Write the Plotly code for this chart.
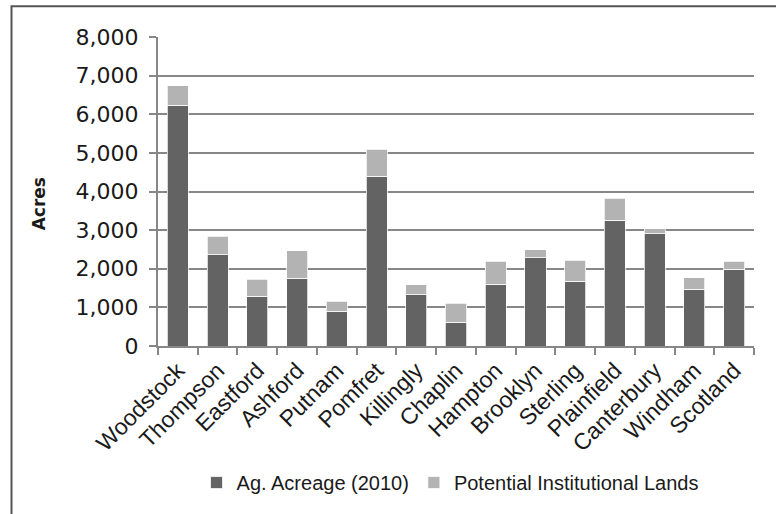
import plotly.graph_objects as go

# Towns along the category axis
towns = ["Woodstock", "Thompson", "Eastford", "Ashford", "Putnam", "Pomfret",
         "Killingly", "Chaplin", "Hampton", "Brooklyn", "Sterling", "Plainfield",
         "Canterbury", "Windham", "Scotland"]

# Acres per town
ag_acreage_2010 = [6230, 2360, 1290, 1750, 900, 4400, 1330, 620, 1600, 2290,
                   1680, 3250, 2910, 1470, 1990]
potential_institutional = [510, 480, 440, 720, 260, 690, 260, 490, 600, 200,
                           540, 570, 120, 300, 200]

y_ticks = [0, 1000, 2000, 3000, 4000, 5000, 6000, 7000, 8000]

DARK = "#636363"
LIGHT = "#b3b3b3"
GRID = "#878787"

fig = go.Figure()
fig.add_trace(go.Bar(
    x=towns, y=ag_acreage_2010, name="Ag. Acreage (2010)",
    marker=dict(color=DARK, line=dict(color="white", width=0.75)),
))
fig.add_trace(go.Bar(
    x=towns, y=potential_institutional, name="Potential Institutional Lands",
    marker=dict(color=LIGHT, line=dict(color="white", width=0.75)),
))

fig.update_layout(
    barmode="stack",
    bargap=0.47,
    width=776, height=514,
    margin=dict(l=158, r=22, t=37, b=166),
    paper_bgcolor="white",
    plot_bgcolor="white",
    font=dict(family="Liberation Sans, Arial, sans-serif", color="#1a1a1a"),
    showlegend=True,
    legend=dict(
        orientation="h", x=0.49, xanchor="center", y=-0.442, yanchor="middle",
        font=dict(size=20, family="Liberation Sans, Arial, sans-serif", color="#1a1a1a"),
        traceorder="normal", itemwidth=30,
    ),
    xaxis=dict(
        type="category",
        tickangle=-45,
        tickfont=dict(size=23, family="Liberation Sans, Arial, sans-serif", color="#1a1a1a"),
        showline=True, linecolor=GRID, linewidth=2,
        ticks="outside", tickson="boundaries", ticklen=7, tickcolor=GRID, tickwidth=2,
        showgrid=False,
    ),
    yaxis=dict(
        range=[0, 8000],
        tickvals=y_ticks,
        tickformat=",d",
        tickfont=dict(size=22, family="DejaVu Sans, sans-serif", color="#1a1a1a"),
        showline=True, linecolor=GRID, linewidth=2,
        ticks="outside", ticklen=7, tickcolor=GRID, tickwidth=2,
        ticklabelstandoff=6,
        showgrid=True, gridcolor=GRID, gridwidth=2,
        zeroline=False,
    ),
    annotations=[dict(
        text="<b>Acres</b>", textangle=-90,
        xref="paper", yref="paper", x=-0.2, y=0.461,
        xanchor="center", yanchor="middle", showarrow=False,
        font=dict(size=17, family="DejaVu Sans, sans-serif", color="#1a1a1a"),
    )],
    shapes=[dict(
        type="rect", xref="paper", yref="paper",
        x0=-0.2458, x1=1.07, y0=-0.62, y1=1.0992,
        line=dict(color="#555555", width=2), fillcolor="rgba(0,0,0,0)",
        layer="below",
    )],
)

fig.write_html("out.html")
